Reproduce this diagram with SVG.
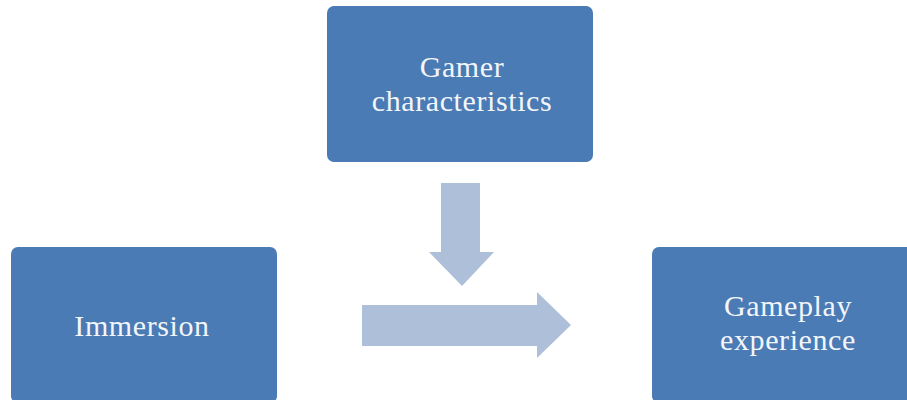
<svg xmlns="http://www.w3.org/2000/svg" width="907" height="400" viewBox="0 0 907 400">
  <style>
    .box { fill: #4a7bb4; }
    .arrow { fill: #aebfd9; }
    .label { font-family: "Liberation Serif", "DejaVu Serif", serif; font-size: 30px; letter-spacing: 0.6px; fill: #f2f5fa; text-anchor: middle; }
  </style>
  <rect width="907" height="400" fill="#ffffff"/>
  <g id="connectors">
    <polygon class="arrow" points="441,183 480,183 480,252 494,252 462,286 429,252 441,252"/>
    <polygon class="arrow" points="362,305 537,305 537,292 571,325 537,358 537,346 362,346"/>
  </g>
  <g id="gamer-characteristics">
    <rect class="box" x="327" y="6" width="266" height="156" rx="7"/>
    <text class="label" x="462" y="77">Gamer</text>
    <text class="label" x="462" y="111">characteristics</text>
  </g>
  <g id="immersion">
    <rect class="box" x="11" y="247" width="266" height="156" rx="7"/>
    <text class="label" x="142" y="336">Immersion</text>
  </g>
  <g id="gameplay-experience">
    <rect class="box" x="652" y="247" width="266" height="156" rx="7"/>
    <text class="label" x="788" y="316">Gameplay</text>
    <text class="label" x="788" y="350">experience</text>
  </g>
</svg>
